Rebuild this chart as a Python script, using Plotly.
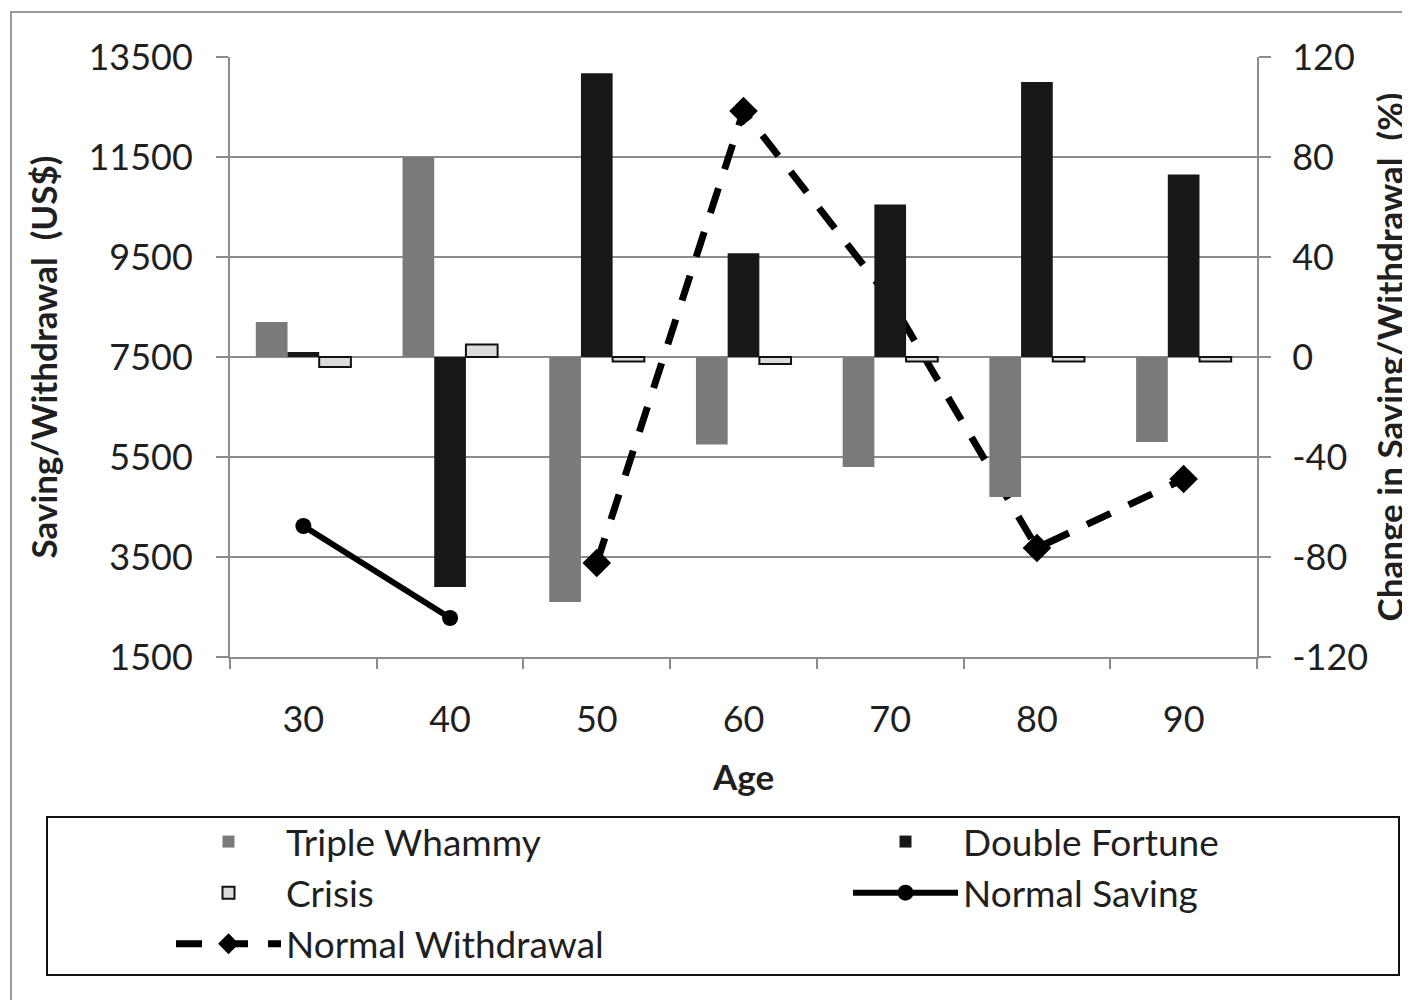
import plotly.graph_objects as go

# ---------------- data ----------------
ages = ["30", "40", "50", "60", "70", "80", "90"]
triple_whammy = [14, 80, -98, -35, -44, -56, -34]          # % change (right axis)
double_fortune = [2, -92, 113.5, 41.5, 61, 110, 73]         # % change (right axis)
crisis = [-4, 5, -1.8, -2.8, -1.8, -1.8, -1.8]              # % change (right axis)
normal_saving = [4120, 2280, None, None, None, None, None]  # US$ (left axis)
normal_withdrawal = [None, None, 3380, 12420, 8650, 3680, 5060]  # US$ (left axis)

left_ticks = [1500, 3500, 5500, 7500, 9500, 11500, 13500]
left_tick_text = ["1500", "3500", "5500", "7500", "9500", "11500", "13500"]
right_ticks = [-120, -80, -40, 0, 40, 80, 120]
right_tick_text = ["-120", "-80", "-40", "0", "40", "80", "120"]

FONT = "Lato"
TXT = "#1f1f1f"
GRID = "#8c8c8c"

# page offset introduced by the browser's default body margin
OFF = 8
W, H = 1410 - OFF, 1000 - OFF
L, R, T, B = 230 - OFF, 1257 - OFF, 57 - OFF, 657 - OFF   # plot area in figure px
pw, ph = R - L, B - T


def px(x_page):
    return (x_page - OFF - L) / pw


def py(y_page):
    return (B - (y_page - OFF)) / ph


fig = go.Figure()

fig.add_trace(go.Bar(x=ages, y=triple_whammy, name="Triple Whammy", yaxis="y2",
                     legend="legend", legendgroup="tw",
                     marker=dict(color="#7a7a7a", line=dict(width=0))))
fig.add_trace(go.Bar(x=ages, y=double_fortune, name="Double Fortune", yaxis="y2",
                     legend="legend2", legendgroup="df",
                     marker=dict(color="#171717", line=dict(width=0))))
fig.add_trace(go.Bar(x=ages, y=crisis, name="Crisis", yaxis="y2",
                     legend="legend", legendgroup="cr",
                     marker=dict(color="#dcdcdc", line=dict(color="#111111", width=2))))
fig.add_trace(go.Scatter(x=ages, y=normal_saving, name="Normal Saving", yaxis="y",
                         legend="legend2", legendgroup="ns",
                         mode="lines+markers", connectgaps=False,
                         line=dict(color="#000000", width=6),
                         marker=dict(symbol="circle", size=16, color="#000000")))
fig.add_trace(go.Scatter(x=ages, y=normal_withdrawal, name="Normal Withdrawal", yaxis="y",
                         legend="legend", legendgroup="nw",
                         mode="lines+markers", connectgaps=False,
                         line=dict(color="#000000", width=7, dash="26px,20px"),
                         marker=dict(symbol="diamond", size=22, color="#000000")))

legend_common = dict(orientation="v", xanchor="left", yanchor="top", itemwidth=105,
                     traceorder="normal", tracegroupgap=5,
                     bgcolor="rgba(0,0,0,0)", borderwidth=0,
                     font=dict(family=FONT, size=37, color=TXT))

fig.update_layout(
    width=W, height=H,
    margin=dict(l=L, r=W - R, t=T, b=H - B, autoexpand=False),
    paper_bgcolor="white", plot_bgcolor="white",
    font=dict(family=FONT, size=36, color=TXT),
    barmode="group", bargap=0.352, bargroupgap=0,
    showlegend=True,
    legend=dict(x=px(171), y=py(811), **legend_common),
    legend2=dict(x=px(848), y=py(811), **legend_common),
    xaxis=dict(type="category", categoryorder="array", categoryarray=ages,
               showline=True, linecolor=GRID, linewidth=2,
               ticks="outside", tickson="boundaries", ticklen=10, tickcolor=GRID, tickwidth=2,
               ticklabelstandoff=30, showgrid=False,
               tickfont=dict(family=FONT, size=36, color=TXT),
               title=dict(text="<b>Age</b>", standoff=26, font=dict(family=FONT, size=35, color=TXT))),
    yaxis=dict(range=[1500, 13500], tickvals=left_ticks, ticktext=left_tick_text,
               showline=True, linecolor=GRID, linewidth=2,
               ticks="outside", ticklen=12, tickcolor=GRID, tickwidth=2, ticklabelstandoff=16,
               showgrid=True, gridcolor=GRID, gridwidth=2, zeroline=False,
               tickfont=dict(family=FONT, size=36, color=TXT),
               title=dict(text="<b>Saving/Withdrawal\u00a0 (US$)</b>", standoff=20,
                          font=dict(family=FONT, size=35, color=TXT))),
    yaxis2=dict(range=[-120, 120], tickvals=right_ticks, ticktext=right_tick_text,
                overlaying="y", side="right",
                showline=True, linecolor=GRID, linewidth=2,
                ticks="outside", ticklen=12, tickcolor=GRID, tickwidth=2, ticklabelstandoff=14,
                showgrid=False, zeroline=False,
                tickfont=dict(family=FONT, size=36, color=TXT),
                title=dict(text="<b>Change in Saving/Withdrawal\u00a0 (%)</b>", standoff=14,
                           font=dict(family=FONT, size=35, color=TXT))),
    shapes=[
        # legend frame
        dict(type="rect", xref="paper", yref="paper", x0=px(47), x1=px(1399), y0=py(975), y1=py(817),
             line=dict(color="#111111", width=2), fillcolor="rgba(0,0,0,0)", layer="below"),
        # outer chart frame
        dict(type="rect", xref="paper", yref="paper", x0=px(11), x1=px(1430), y0=py(1020), y1=py(12),
             line=dict(color="#9a9a9a", width=2), fillcolor="rgba(0,0,0,0)", layer="below"),
    ],
)

fig.write_html("out.html")
